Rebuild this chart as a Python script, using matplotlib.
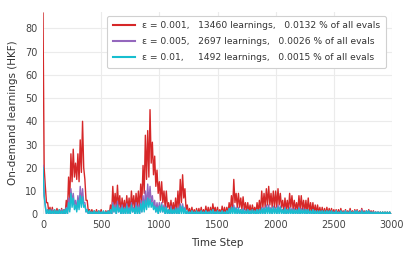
import numpy as np
import matplotlib
matplotlib.use("Agg")
import matplotlib.pyplot as plt

# bins of 20 time steps: upper and lower envelope of each noisy series
bin_start = np.arange(0, 3000, 20)

red_hi = [
    86.5, 12, 5, 3, 3, 2, 2.5, 2, 2.5, 2,
    6, 16, 26, 28, 22, 26, 32, 40, 15, 6,
    2, 2, 1.5, 2, 1.5, 2, 1, 1.5, 1.5, 4,
    12, 9, 12.5, 8, 7, 6, 8, 7, 10, 8,
    9, 10, 13, 21, 34, 36, 45, 31, 25, 19,
    14, 14, 10, 10, 5, 6, 5, 7, 10, 15,
    17, 11, 4, 2.5, 3, 2, 2.5, 2.5, 3, 2,
    3.5, 3, 3, 4.5, 3, 3, 2, 3.5, 3, 3,
    5, 8, 15, 9, 9, 7, 7.5, 5, 5, 4,
    4, 3, 5, 6, 10, 9, 11, 12, 9, 10,
    10, 11, 9, 6, 7, 6, 9, 8, 6, 5,
    8, 8, 6, 6, 7, 5, 5, 4, 4, 3,
    3, 2.5, 3, 2.5, 2.5, 2, 2, 2, 2.5, 1.5,
    2, 1.5, 2.5, 1.5, 2, 2, 1.5, 2.5, 1.5, 1.5,
    2, 1.5, 1.5, 1, 1, 1, 1, 1, 1, 1,
]
red_lo = [
    20, 5, 1, 0, 0, 0, 0, 0, 0, 0,
    1, 6, 14, 16, 15, 14, 18, 20, 6, 1,
    0, 0, 0, 0, 0, 0, 0, 0, 0, 0,
    3, 2, 3, 1, 2, 1, 2, 1, 3, 2,
    3, 2, 5, 9, 15, 16, 22, 17, 12, 9,
    6, 5, 3, 3, 1, 1, 1, 1, 2, 5,
    7, 2, 0.5, 0, 0, 0, 0, 0, 0, 0,
    0, 0, 0, 1, 0, 0, 0, 0, 0, 0,
    1, 2, 5, 3, 3, 2, 2, 1, 1, 0.5,
    1, 0.5, 1, 1, 3, 3, 4, 4, 3, 3,
    3, 4, 3, 1, 2, 1, 3, 2, 2, 1,
    2, 2, 1, 1, 1, 0.5, 0.5, 0.5, 0.5, 0,
    0, 0, 0, 0, 0, 0, 0, 0, 0, 0,
    0, 0, 0, 0, 0, 0, 0, 0, 0, 0,
    0, 0, 0, 0, 0, 0, 0, 0, 0, 0,
]

purple_hi = [
    21, 4, 2, 1.5, 2, 1.5, 1.5, 1.5, 2, 1.5,
    3, 7, 11, 9, 6, 8, 12, 11, 5, 2,
    1, 1, 1, 1, 1, 1, 1, 1, 1, 1.5,
    5, 4, 5.5, 3, 4, 3, 4.5, 3, 5, 3,
    5, 4, 6, 8, 10, 13, 12, 8, 6, 5,
    5, 5, 4, 3.5, 2, 3.5, 2, 3, 3, 4.5,
    4.5, 3, 1.5, 1, 1.5, 1, 1, 1, 1.5, 1,
    1.5, 1, 1.5, 2, 1, 1.5, 1, 1.5, 1, 1.5,
    2.5, 3, 4, 3, 3, 2, 2.5, 2, 2, 1.5,
    2, 1.5, 2, 2, 3, 3, 4, 4, 3, 3.5,
    3, 4, 3.5, 2, 3, 2, 3, 2.5, 2.5, 2,
    3, 2.5, 2.5, 2, 2, 1.5, 2, 1.5, 1.5, 1,
    1.5, 1, 1.5, 1, 1.5, 1, 1.5, 1, 1.5, 1,
    1.5, 1, 1.5, 1, 1.5, 1.5, 1, 2, 1, 1.5,
    1.5, 1, 1, 1, 1, 0.5, 0.5, 0.5, 0.5, 0.5,
]
purple_lo = [
    8, 0, 0, 0, 0, 0, 0, 0, 0, 0,
    0, 2, 5, 4, 2, 3, 5, 5, 1, 0,
    0, 0, 0, 0, 0, 0, 0, 0, 0, 0,
    1, 0, 1, 0, 0, 0, 1, 0, 1, 0,
    1, 0, 1, 2, 3, 5, 5, 3, 1, 1,
    1, 1, 0, 0, 0, 0, 0, 0, 0, 1,
    1, 0, 0, 0, 0, 0, 0, 0, 0, 0,
    0, 0, 0, 0, 0, 0, 0, 0, 0, 0,
    0, 1, 1, 0, 0, 0, 0, 0, 0, 0,
    0, 0, 0, 0, 1, 0, 1, 1, 0, 1,
    0, 1, 1, 0, 0, 0, 1, 0, 0, 0,
    0, 0, 0, 0, 0, 0, 0, 0, 0, 0,
    0, 0, 0, 0, 0, 0, 0, 0, 0, 0,
    0, 0, 0, 0, 0, 0, 0, 0, 0, 0,
    0, 0, 0, 0, 0, 0, 0, 0, 0, 0,
]

cyan_hi = [
    20, 3, 2, 2, 1.5, 2, 1.5, 2, 1.5, 2,
    2.5, 5, 9, 7, 4, 6, 8, 7.5, 4, 2,
    1.5, 1, 1.5, 1, 1.5, 1, 1.5, 1, 1.5, 2,
    4, 3, 4, 2.5, 3, 2.5, 3.5, 2.5, 4, 2.5,
    3.5, 3, 4.5, 5.5, 6, 7, 6.5, 5, 3.5, 3,
    3.5, 4, 3, 3, 2, 2.5, 2, 2.5, 2.5, 3.5,
    3.5, 2.5, 1.5, 1, 1.5, 1, 1.5, 1, 1.5, 1,
    1.5, 1, 1.5, 2, 1, 1.5, 1, 1.5, 1, 1.5,
    2.5, 3, 3, 2.5, 2.5, 2, 2, 1.5, 2, 1.5,
    2, 1.5, 2, 2, 2.5, 2.5, 3, 3, 2.5, 3,
    2.5, 3, 3, 2, 2.5, 2, 2.5, 2, 2, 2,
    2.5, 2, 2, 2, 2, 1.5, 2, 1.5, 1.5, 1.5,
    1.5, 1.5, 1.5, 1.5, 1.5, 1, 1.5, 1, 1.5, 1,
    1.5, 1, 1.5, 1, 1.5, 1.5, 1, 1.5, 1, 1.5,
    1.5, 1, 1, 1, 1, 1, 1, 1, 1, 1,
]
cyan_lo = [
    8, 0, 0, 0, 0, 0, 0, 0, 0, 0,
    0, 1, 3, 2, 1, 2, 3, 3, 1, 0,
    0, 0, 0, 0, 0, 0, 0, 0, 0, 0,
    1, 0, 1, 0, 0, 0, 0, 0, 1, 0,
    0, 0, 1, 1, 2, 3, 3, 2, 1, 0,
    1, 1, 0, 0, 0, 0, 0, 0, 0, 0,
    0, 0, 0, 0, 0, 0, 0, 0, 0, 0,
    0, 0, 0, 0, 0, 0, 0, 0, 0, 0,
    0, 0, 0, 0, 0, 0, 0, 0, 0, 0,
    0, 0, 0, 0, 0, 0, 0, 0, 0, 0,
    0, 0, 0, 0, 0, 0, 0, 0, 0, 0,
    0, 0, 0, 0, 0, 0, 0, 0, 0, 0,
    0, 0, 0, 0, 0, 0, 0, 0, 0, 0,
    0, 0, 0, 0, 0, 0, 0, 0, 0, 0,
    0, 0, 0, 0, 0, 0, 0, 0, 0, 0,
]

labels = [
    "ε = 0.001,   13460 learnings,   0.0132 % of all evals",
    "ε = 0.005,   2697 learnings,   0.0026 % of all evals",
    "ε = 0.01,     1492 learnings,   0.0015 % of all evals",
]
colors = ["#d62728", "#9467bd", "#17becf"]
x_ticks = [0, 500, 1000, 1500, 2000, 2500, 3000]
y_ticks = [0, 10, 20, 30, 40, 50, 60, 70, 80]


def envelope_trace(hi, lo):
    # each bin: its maximum at the bin start, its minimum half a bin later
    x = np.empty(2 * len(bin_start))
    y = np.empty(2 * len(bin_start))
    x[0::2] = bin_start
    x[1::2] = bin_start + 10
    y[0::2] = hi
    y[1::2] = lo
    return x, y


plt.rcParams['font.family'] = ['DejaVu Sans']
fig = plt.figure(figsize=(4.15, 2.56), dpi=100)
ax = fig.add_axes([0.1036, 0.163, 0.841, 0.790])

for (hi, lo), lab, col in zip([(red_hi, red_lo), (purple_hi, purple_lo), (cyan_hi, cyan_lo)],
                              labels, colors):
    x, y = envelope_trace(hi, lo)
    ax.plot(x, y, color=col, lw=1.0, label=lab)

ax.set_xlim(0, 3000)
ax.set_ylim(0, 87)
ax.set_xticks(x_ticks)
ax.set_yticks(y_ticks)
ax.grid(True, color="#ebebeb", lw=0.8)
ax.set_axisbelow(True)
for s in ax.spines.values():
    s.set_visible(False)
ax.tick_params(length=0, labelsize=7, colors="#444444", pad=4)
ax.set_xlabel("Time Step", fontsize=7.5, color="#333333", labelpad=6)
ax.set_ylabel("On-demand learnings (HKF)", fontsize=7.5, color="#333333", labelpad=5)

leg = ax.legend(loc="upper right", bbox_to_anchor=(0.930, 0.9375),
                bbox_transform=fig.transFigure, fontsize=6.6,
                handlelength=2.4, handletextpad=0.8, labelspacing=0.75,
                borderpad=0.6, borderaxespad=0,
                framealpha=1, edgecolor="#d0d0d0", fancybox=True)
leg.get_frame().set_linewidth(0.8)
for line in leg.get_lines():
    line.set_linewidth(1.5)
for t in leg.get_texts():
    t.set_color("#333333")

fig.savefig("out.png", dpi=100)
